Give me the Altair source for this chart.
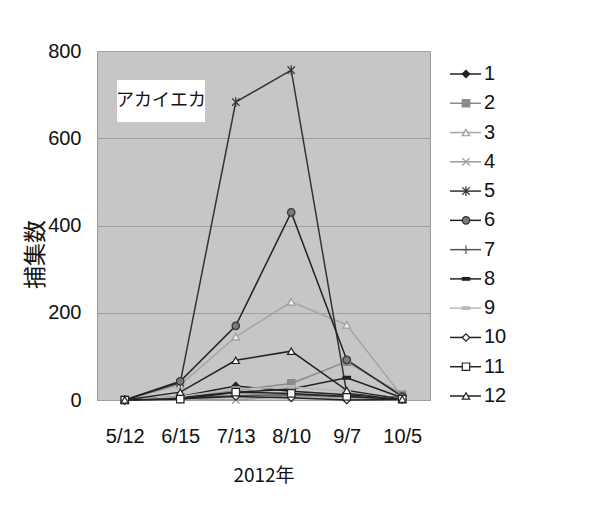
import altair as alt
import pandas as pd

# Sampling dates (2012) and trap numbers
dates = ["5/12", "6/15", "7/13", "8/10", "9/7", "10/5"]
series_names = [str(i) for i in range(1, 13)]

# Mosquito counts per trap at each sampling date
s1 = [0, 8, 32, 20, 12, 3]
s2 = [0, 6, 22, 38, 88, 12]
s3 = [0, 35, 145, 225, 172, 8]
s4 = [0, 3, 0, 10, 5, 1]
s5 = [0, 40, 683, 756, 15, 5]
s6 = [0, 43, 170, 430, 92, 8]
s7 = [0, 5, 10, 12, 8, 2]
s8 = [0, 6, 18, 25, 51, 5]
s9 = [0, 8, 25, 30, 20, 3]
s10 = [0, 3, 8, 5, 0, 1]
s11 = [0, 2, 18, 15, 8, 2]
s12 = [0, 18, 91, 112, 22, 2]
all_series = [s1, s2, s3, s4, s5, s6, s7, s8, s9, s10, s11, s12]

# Marker styling per trap
line_colors = ["#222222", "#8a8a8a", "#a5a5a5", "#9a9a9a", "#333333", "#222222",
               "#555555", "#222222", "#b8b8b8", "#222222", "#222222", "#222222"]
X_PATH = "M-1,-1L1,1M-1,1L1,-1"
STAR_PATH = "M-1,-1L1,1M-1,1L1,-1M0,-1.3L0,1.3"
PLUS_PATH = "M-1,0L1,0M0,-1.2L0,1.2"
DASH_PATH = "M-1,-0.35L1,-0.35L1,0.35L-1,0.35Z"
shapes = ["diamond", "square", "triangle-up", X_PATH, STAR_PATH, "circle",
          PLUS_PATH, DASH_PATH, DASH_PATH, "diamond", "square", "triangle-up"]
fills = ["#222222", "#8a8a8a", "#f2f2f2", "transparent", "transparent", "#7a7a7a",
         "transparent", "#222222", "#b8b8b8", "#ffffff", "#ffffff", "#ffffff"]
strokes = ["#222222", "#8a8a8a", "#9a9a9a", "#9a9a9a", "#333333", "#333333",
           "#555555", "#222222", "#b8b8b8", "#222222", "#222222", "#222222"]

rows = []
for name, vals in zip(series_names, all_series):
    for d, v in zip(dates, vals):
        rows.append({"date": d, "series": name, "count": v})
df = pd.DataFrame(rows)

NUM_FONT = "Liberation Sans"
CJK = "Noto Sans CJK JP"

W, H = 333, 349

color_enc = alt.Color("series:N", scale=alt.Scale(domain=series_names, range=line_colors), legend=None)
shape_enc = alt.Shape("series:N", scale=alt.Scale(domain=series_names, range=shapes), legend=None)
fill_enc = alt.Fill("series:N", scale=alt.Scale(domain=series_names, range=fills), legend=None)
stroke_enc = alt.Stroke("series:N", scale=alt.Scale(domain=series_names, range=strokes), legend=None)

x_enc = alt.X("date:N", sort=dates,
              scale=alt.Scale(type="point", domain=dates, padding=0.5),
              axis=alt.Axis(labelAngle=0, ticks=False, domain=False, grid=False,
                            labelFont=NUM_FONT, labelFontSize=20, labelColor="#111",
                            labelPadding=26, title="2012年", titleFont=CJK,
                            titleFontSize=19, titleFontWeight="normal", titleColor="#111",
                            titleY=75, titleBaseline="middle"))
y_scale = alt.Scale(domain=[0, 800], nice=False)
y_enc = alt.Y("count:Q", scale=y_scale,
              axis=alt.Axis(values=[0, 200, 400, 600, 800], grid=True, gridColor="#9e9e9e",
                            gridWidth=1, ticks=False, domain=False,
                            labelFont=NUM_FONT, labelFontSize=20, labelColor="#111",
                            labelPadding=16, title="捕集数", titleFont=CJK,
                            titleFontSize=23, titleFontWeight="normal", titleColor="#111",
                            titleAngle=270, titleX=-62, titleY=203,
                            titleAlign="center", titleBaseline="middle"))

lines = alt.Chart(df).mark_line(strokeWidth=1.5).encode(
    x=x_enc, y=y_enc, color=color_enc, detail="series:N"
)
points = alt.Chart(df).mark_point(size=55, strokeWidth=1.2, opacity=1).encode(
    x=x_enc, y=y_enc,
    shape=shape_enc, fill=fill_enc, stroke=stroke_enc
)
main = alt.layer(lines, points)

# Legend: short line segment, marker and trap number for each series
leg_df = pd.DataFrame({"series": series_names})
leg_y = alt.Y("series:N", sort=series_names,
              scale=alt.Scale(type="point", domain=series_names, range=[23, 345], padding=0),
              axis=None)
leg_lines = alt.Chart(leg_df).mark_rule(strokeWidth=1.5).encode(
    x=alt.value(353), x2=alt.value(384), y=leg_y, color=color_enc
)
leg_points = alt.Chart(leg_df).mark_point(size=55, strokeWidth=1.2, opacity=1).encode(
    x=alt.value(369), y=leg_y, shape=shape_enc, fill=fill_enc, stroke=stroke_enc
)
leg_text = alt.Chart(leg_df).mark_text(align="left", baseline="middle", font=NUM_FONT,
                                       fontSize=20, color="#111").encode(
    x=alt.value(387), y=leg_y, text="series:N"
)
legend = alt.layer(leg_lines, leg_points, leg_text)

# Species label box in the upper-left of the plot
label_df = pd.DataFrame({"label": ["アカイエカ"]})
label_box = alt.Chart(label_df).mark_rect(fill="white").encode(
    x=alt.value(20), x2=alt.value(108), y=alt.value(29), y2=alt.value(71)
)
label_text = alt.Chart(label_df).mark_text(font=CJK, fontSize=18, color="#111",
                                           align="center", baseline="middle").encode(
    x=alt.value(64), y=alt.value(50), text="label:N"
)

chart = alt.layer(main, label_box, label_text, legend).resolve_scale(
    y="independent"
).properties(
    width=W, height=H,
    autosize=alt.AutoSizeParams(type="none"),
    padding={"left": 97, "top": 51, "right": 176, "bottom": 109},
    background="white",
).configure_view(
    fill="#c6c6c6", stroke="#555555", strokeWidth=1, strokeDash=[1, 1]
)

chart.save("out.html", embed_options={"renderer": "svg", "actions": False})
